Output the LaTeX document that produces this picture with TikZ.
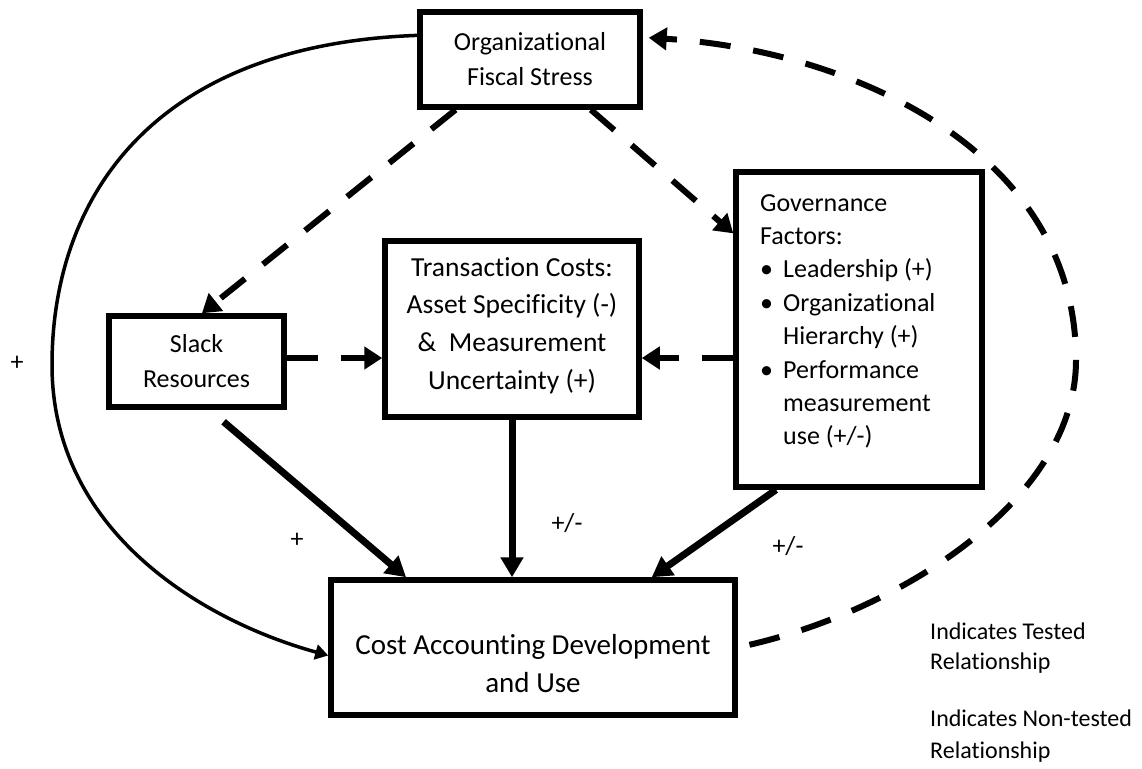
\documentclass[tikz,border=0pt]{standalone}
\usepackage{fontspec}
\setmainfont{Carlito}[Ligatures=NoCommon]
\usetikzlibrary{arrows.meta,calc}
\begin{document}
\begin{tikzpicture}[x=1pt,y=-1pt,
  box/.style={draw,line width=5.5pt,inner sep=0pt},
  txt/.style={inner sep=0pt,align=center,font=\fontsize{26}{35}\selectfont},
  solidarrow/.style={line width=7pt,-{Triangle[length=20pt,width=22pt]}},
  dasharrow/.style={line width=6pt,dash pattern=on 31pt off 23pt,-{Triangle[length=18pt,width=22pt]}},
  thinarrow/.style={line width=3.5pt,-{Triangle[length=13pt,width=15pt]}},
  lbl/.style={inner sep=0pt,font=\fontsize{26}{30}\selectfont}]
\useasboundingbox (0,0) rectangle (1142,768);

% boxes
\node[box,minimum width=220pt,minimum height=95pt] (top) at (530,59.5) {};
\node[box,minimum width=175pt,minimum height=91pt] (slack) at (196.5,361.5) {};
\node[box,minimum width=254pt,minimum height=176pt] (trans) at (512,329) {};
\node[box,minimum width=246pt,minimum height=315pt] (gov) at (859,329.5) {};
\node[box,minimum width=404pt,minimum height=135pt] (cost) at (533,647.5) {};
\coordinate (mid) at (0,358);

% texts
\node[txt] (toptxt) at (top.center) {Organizational\\Fiscal Stress};
\node[txt] (slacktxt) at (slack.center) {Slack\\Resources};
\node[txt,font=\fontsize{27.5}{37.7}\selectfont] (transtxt) at (512,325.5) {Transaction Costs:\\Asset Specificity (-)\\\&\ \ Measurement\\Uncertainty (+)};
\node[txt,align=left,anchor=north west,font=\fontsize{26}{33.4}\selectfont] (govtxt) at (760,194) {Governance\\Factors:\\\makebox[23pt][l]{\textbullet}Leadership (+)\\\makebox[23pt][l]{\textbullet}Organizational\\\hspace*{23pt}Hierarchy (+)\\\makebox[23pt][l]{\textbullet}Performance\\\hspace*{23pt}measurement\\\hspace*{23pt}use (+/-)};
\node[txt,font=\fontsize{29}{38}\selectfont] (costtxt) at (533,664) {Cost Accounting Development\\and Use};

% legend
\node[lbl,align=left,anchor=west,font=\fontsize{24}{30}\selectfont] (leg1) at (930,648) {Indicates Tested\\Relationship};
\node[lbl,align=left,anchor=west,font=\fontsize{24}{32}\selectfont] (leg2) at (930,736) {Indicates Non-tested\\Relationship};

% labels
\node[lbl] (plusL) at (17,363) {+};
\node[lbl] (plusS) at (297,540) {+};
\node[lbl] (pmT) at (567,523) {+/-};
\node[lbl] (pmG) at (788,546) {+/-};

% dashed (non-tested) connectors
\draw[dasharrow] ($(top.south west)!0.17!(top.south east)$) -- ($(slack.north west)!0.53!(slack.north east)$);
\draw[dasharrow] ($(top.south west)!0.77!(top.south east)$) -- ($(gov.north west)!0.2!(gov.south west)$);
\draw[dasharrow] (slack.east |- mid) -- (trans.west |- mid);
\draw[dasharrow] (gov.west |- mid) -- (trans.east |- mid);
\draw[dasharrow,shorten <=12pt,shorten >=6pt] (cost.east) .. controls (900,610) and (1076,500) .. (1076,360) .. controls (1076,150) and (850,50) .. ($(top.north east)!0.28!(top.south east)$);

% solid (tested) connectors
\draw[solidarrow] ($(slack.south west)!0.65!(slack.south east)+(0,12)$) -- ($(cost.north west)!0.19!(cost.north east)$);
\draw[solidarrow] (trans.south) -- (trans.south |- cost.north);
\draw[solidarrow] ($(gov.south west)!0.17!(gov.south east)$) -- ($(cost.north west)!0.79!(cost.north east)$);
\draw[thinarrow] ($(top.north west)!0.26!(top.south west)$) .. controls (150,45) and (52,200) .. (52,365) .. controls (52,530) and (200,620) .. ($(cost.west)+(0,8)$);
\end{tikzpicture}
\end{document}
